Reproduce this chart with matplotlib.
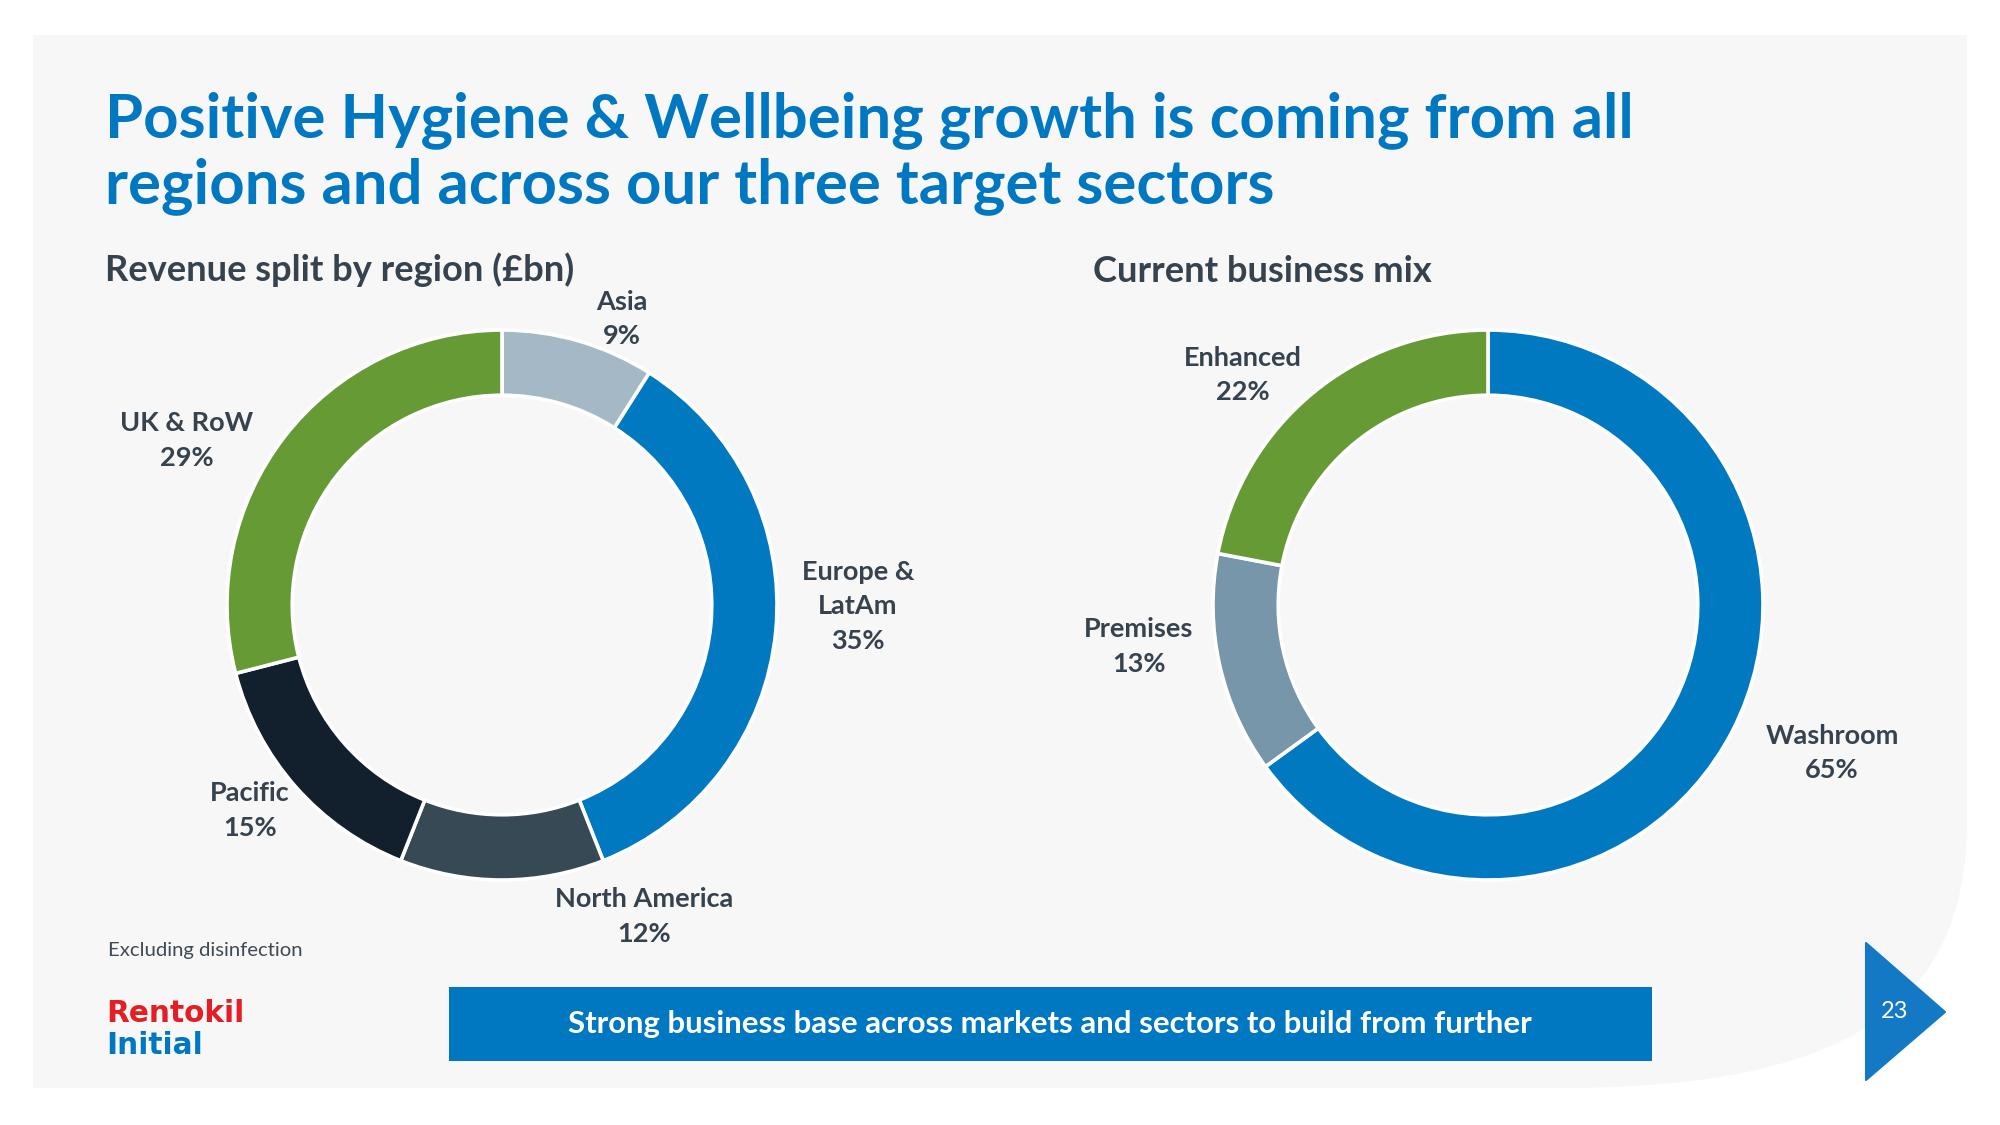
import matplotlib
matplotlib.use('Agg')
import matplotlib.pyplot as plt
from matplotlib.patches import Rectangle, Polygon, PathPatch
from matplotlib.path import Path

W, H, DPI = 2000, 1125, 100

# chart data
region_names = ['Asia', 'Europe &\nLatAm', 'North America', 'Pacific', 'UK & RoW']
region_pct = [9, 35, 12, 15, 29]
region_colors = ['#A5B8C6', '#0079C1', '#364955', '#121F2C', '#669A34']

mix_names = ['Washroom', 'Premises', 'Enhanced']
mix_pct = [65, 13, 22]
mix_colors = ['#0079C1', '#7896AA', '#669A34']

# label anchors (x centre, baseline of first line) in slide pixels
region_label_pos = [(622, 310), (858, 580), (644, 907), (250, 801), (187, 431)]
mix_label_pos = [(1832, 744), (1139, 637), (1243, 366)]

BLUE = '#0078C1'
SLATE = '#36434F'
FONT = 'Lato'
plt.rcParams['font.family'] = [FONT, 'DejaVu Sans']

fig = plt.figure(figsize=(W / DPI, H / DPI), dpi=DPI)
fig.patch.set_facecolor('white')
bg = fig.add_axes([0, 0, 1, 1])
bg.set_xlim(0, W)
bg.set_ylim(H, 0)
bg.axis('off')
renderer = fig.canvas.get_renderer()


def fit(s, width, **kw):
    t = bg.text(0, 0, s, fontsize=20, **kw)
    w = t.get_window_extent(renderer).width
    t.remove()
    return 20 * width / w


# light panel with the curved bottom-right corner
verts = [(33, 35), (1967, 35), (1967, 820), (1967, 1008), (1845, 1088),
         (1560, 1088), (33, 1088), (33, 35)]
codes = [Path.MOVETO, Path.LINETO, Path.LINETO, Path.CURVE4, Path.CURVE4,
         Path.CURVE4, Path.LINETO, Path.CLOSEPOLY]
bg.add_patch(PathPatch(Path(verts, codes), facecolor='#F7F7F7', edgecolor='none'))

# title
title1 = 'Positive Hygiene & Wellbeing growth is coming from all'
title2 = 'regions and across our three target sectors'
ts = fit(title1, 1527, fontweight='bold')
bg.text(105, 137, title1, fontsize=ts, fontweight='bold', color=BLUE, va='baseline')
bg.text(105, 203, title2, fontsize=ts, fontweight='bold', color=BLUE, va='baseline')

# section headings
ss = fit('Revenue split by region (£bn)', 469, fontweight='bold')
bg.text(105, 281, 'Revenue split by region (£bn)', fontsize=ss, fontweight='bold',
        color=SLATE, va='baseline')
bg.text(1093, 282, 'Current business mix', fontsize=ss, fontweight='bold',
        color=SLATE, va='baseline')


def donut(cx, cy, r, values, colors):
    pad = 1.1
    side = 2 * r * pad
    ax = fig.add_axes([(cx - side / 2) / W, (H - cy - side / 2) / H, side / W, side / H])
    ax.pie(values, colors=colors, startangle=90, counterclock=False, radius=1,
           wedgeprops=dict(width=65 / 274, edgecolor='white', linewidth=2.6))
    ax.set_xlim(-pad, pad)
    ax.set_ylim(-pad, pad)
    ax.set_aspect('equal')
    return ax


donut(502, 605, 275, region_pct, region_colors)
donut(1488, 605, 275, mix_pct, mix_colors)

# data labels
ls = fit('North America', 178, fontweight='bold')
pitch = 34.5


def labels(names, pcts, pos):
    for name, p, (x, y) in zip(names, pcts, pos):
        lines = name.split('\n') + [f'{p}%']
        for i, line in enumerate(lines):
            bg.text(x, y + i * pitch, line, fontsize=ls, fontweight='bold',
                    color=SLATE, ha='center', va='baseline')


labels(region_names, region_pct, region_label_pos)
labels(mix_names, mix_pct, mix_label_pos)

# footnote
fs = fit('Excluding disinfection', 195)
bg.text(108, 956, 'Excluding disinfection', fontsize=fs, color='#3F4A55', va='baseline')

# logo
lg = fit('Rentokil', 139, fontweight='heavy', family='DejaVu Sans')
bg.text(106, 1022, 'Rentokil', fontsize=lg, fontweight='heavy', family='DejaVu Sans',
        color='#E31E24', va='baseline')
bg.text(106, 1054, 'Initial', fontsize=lg, fontweight='heavy', family='DejaVu Sans',
        color=BLUE, va='baseline')

# takeaway banner
bg.add_patch(Rectangle((449, 987), 1203, 74, facecolor=BLUE, edgecolor='none'))
msg = 'Strong business base across markets and sectors to build from further'
bs = fit(msg, 964, fontweight='bold')
bg.text(1050, 1024, msg, fontsize=bs, fontweight='bold', color='white',
        ha='center', va='center')

# page marker
bg.add_patch(Polygon([(1866, 943), (1866, 1080), (1945, 1012)], closed=True,
                     facecolor='#1479C4', edgecolor='#1479C4', linewidth=1.5,
                     joinstyle='round'))
bg.text(1895, 1012, '23', fontsize=17, color='white', ha='center', va='center')

fig.savefig('out.png', dpi=DPI, facecolor=fig.get_facecolor())
